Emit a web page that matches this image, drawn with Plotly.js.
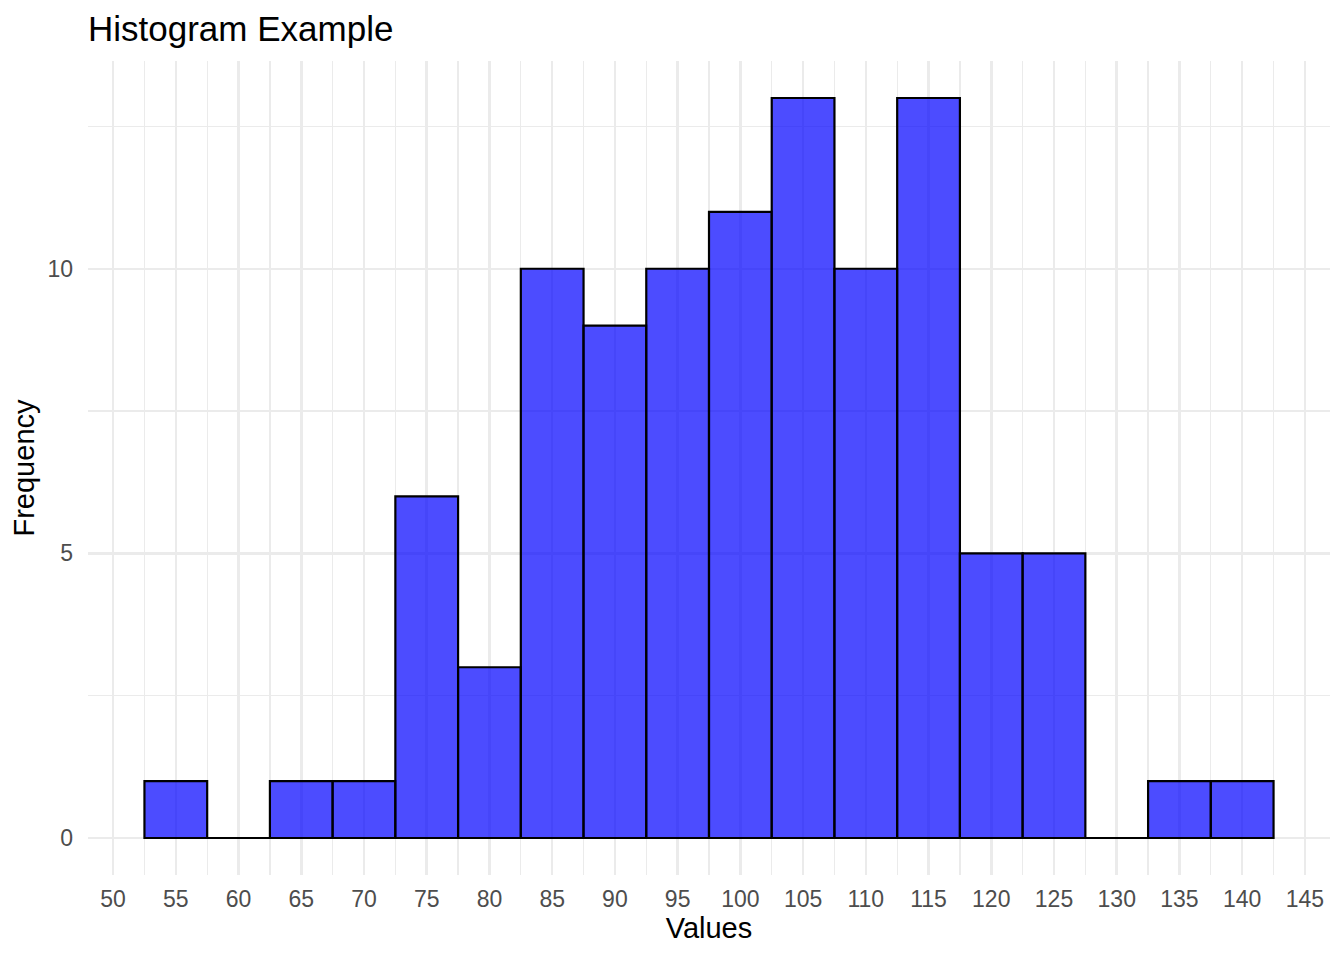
<!DOCTYPE html>
<html><head><meta charset="utf-8">
<script src="https://cdn.plot.ly/plotly-3.0.1.min.js"></script>
<style>body{margin:0;background:#fff}#chart{width:1344px;height:960px}</style>
</head><body><div id="chart"></div>
<script>
const binCenters = [55,60,65,70,75,80,85,90,95,100,105,110,115,120,125,130,135,140];
const counts     = [1,0,1,1,6,3,10,9,10,11,13,10,13,5,5,0,1,1];
const binWidth = 5;
const xTicks = [50,55,60,65,70,75,80,85,90,95,100,105,110,115,120,125,130,135,140,145];
const yTicks = [0,5,10];

const zeroX = [], zeroY = [];
binCenters.forEach((c,i)=>{ if(counts[i]===0){ zeroX.push(c-binWidth/2, c+binWidth/2, null); zeroY.push(0,0,null);} });

const traces = [
  {type:'bar', x:binCenters, y:counts, width:binWidth,
   marker:{color:'rgba(0,0,255,0.7)', line:{color:'#000', width:2.2}}, hoverinfo:'x+y'},
  {type:'scatter', mode:'lines', x:zeroX, y:zeroY, line:{color:'#000', width:2.2}, hoverinfo:'skip'}
];

const layout = {
  width:1344, height:960, showlegend:false,
  paper_bgcolor:'#fff', plot_bgcolor:'#fff',
  margin:{l:88, r:14, t:61, b:85},
  font:{family:'Liberation Sans, Arial, sans-serif'},
  title:{text:'Histogram Example', x:0, xref:'paper', xanchor:'left', y:0.97, yref:'container', yanchor:'middle',
         font:{size:35, color:'#000'}, pad:{l:0}},
  xaxis:{range:[48,147], tickmode:'array', tickvals:xTicks, ticktext:xTicks.map(String),
         showgrid:true, gridcolor:'#EBEBEB', gridwidth:2.5, zeroline:false, showline:false, ticks:'',
         tickfont:{size:23, color:'#4D4D4D'}, ticklabelstandoff:8,
         minor:{dtick:2.5, tick0:2.5, showgrid:true, gridcolor:'#EBEBEB', gridwidth:1.3, ticks:''},
         title:{text:'Values', font:{size:29, color:'#000'}, standoff:4}},
  yaxis:{range:[-0.65,13.65], tickmode:'array', tickvals:yTicks, ticktext:yTicks.map(String),
         showgrid:true, gridcolor:'#EBEBEB', gridwidth:2.5, zeroline:false, showline:false, ticks:'',
         tickfont:{size:23, color:'#4D4D4D'}, ticklabelstandoff:14,
         minor:{tickvals:[2.5,7.5,12.5], showgrid:true, gridcolor:'#EBEBEB', gridwidth:1.3, ticks:''},
         title:{text:'Frequency', font:{size:29, color:'#000'}, standoff:4}},
  bargap:0
};
Plotly.newPlot('chart', traces, layout, {displayModeBar:false, staticPlot:true});
</script></body></html>
